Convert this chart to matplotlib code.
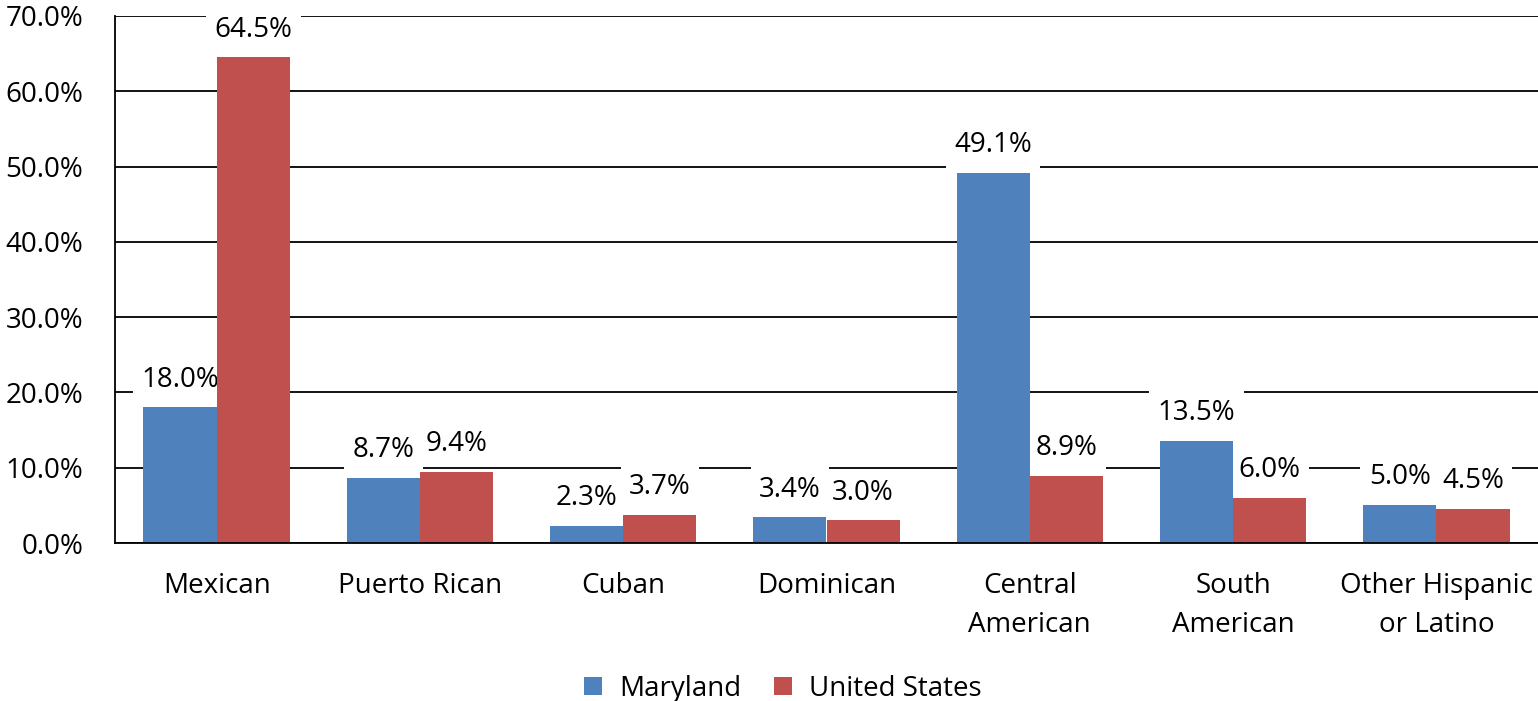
import numpy as np
import matplotlib.pyplot as plt
from matplotlib.ticker import PercentFormatter

categories = ["Mexican", "Puerto Rican", "Cuban", "Dominican",
              "Central\nAmerican", "South\nAmerican", "Other Hispanic\nor Latino"]
maryland = [18.0, 8.7, 2.3, 3.4, 49.1, 13.5, 5.0]
united_states = [64.5, 9.4, 3.7, 3.0, 8.9, 6.0, 4.5]
series_names = ["Maryland", "United States"]

blue = "#4F81BD"
red = "#C0504D"
fs = 20

plt.rcParams['font.family'] = ['Open Sans', 'DejaVu Sans']

fig = plt.figure(figsize=(15.38, 7.01), dpi=100)
ax = fig.add_axes([115 / 1538, 1 - 543 / 701, 1 - 115 / 1538, (543 - 16) / 701])

x = np.arange(len(categories))
w = 0.36
b1 = ax.bar(x - w / 2, maryland, w, color=blue, zorder=2, label=series_names[0])
b2 = ax.bar(x + w / 2, united_states, w, color=red, zorder=2, label=series_names[1])

# value labels sit on white boxes that hide the gridlines but stay behind the bars
for bars in (b1, b2):
    for rect in bars:
        h = rect.get_height()
        ax.annotate(f"{h:.1f}%", (rect.get_x() + rect.get_width() / 2, h),
                    xytext=(0, 10), textcoords="offset points",
                    ha="center", va="bottom", fontsize=fs, zorder=1.5,
                    bbox=dict(boxstyle="square,pad=0.3", fc="white", ec="none"))

ax.set_xlim(-0.5, len(categories) - 0.5)
ax.set_ylim(0, 70)
ax.set_yticks(np.arange(0, 71, 10))
ax.yaxis.set_major_formatter(PercentFormatter(decimals=1))
ax.set_xticks(x)
ax.set_xticklabels(categories, fontsize=fs, linespacing=1.5)
ax.tick_params(axis="y", labelsize=fs, length=0, pad=23)
ax.tick_params(axis="x", length=0, pad=21)
ax.grid(axis="y", color="black", linewidth=1.3, zorder=0)
ax.set_axisbelow(True)
for s in ("top", "right"):
    ax.spines[s].set_visible(False)
ax.spines["left"].set_linewidth(1.3)
ax.spines["bottom"].set_linewidth(1.3)
ax.spines["left"].set_zorder(3)
ax.spines["bottom"].set_zorder(3)

fig.legend(handles=[b1, b2], loc="lower center", bbox_to_anchor=(0.509, -0.038),
           ncol=2, frameon=False, fontsize=fs, handlelength=0.65, handleheight=0.65,
           columnspacing=1.2, handletextpad=0.6)

fig.savefig("out.png", dpi=100, facecolor="white")
